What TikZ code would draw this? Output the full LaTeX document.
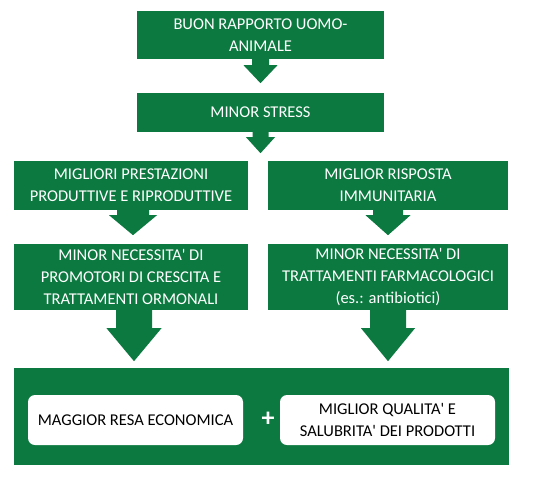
\documentclass[tikz,border=0pt]{standalone}
\usepackage{fontspec}
\setmainfont{Carlito}[Ligatures=TeXOff]
\usetikzlibrary{calc}
\definecolor{gr}{RGB}{12,122,64}
\tikzset{
  gbox/.style={rectangle,fill=gr,text=white,align=center,inner sep=0pt,font=\fontsize{16.5}{22}\selectfont},
  wbox/.style={rectangle,rounded corners=7pt,fill=white,text=black,align=center,inner sep=0pt,font=\fontsize{16.5}{22}\selectfont},
  garrow/.style={fill=gr}
}
% #1 start, #2 shaft half width, #3 head half width, #4 shaft length, #5 head length
\newcommand\grarrow[5]{%
  \fill[garrow] ($#1+(-#2,-1)$) -- ++(0,#4+1) -- ++(#2-#3,0) -- ++(#3,#5) -- ++(#3,-#5) -- ++(#2-#3,0) -- ++(0,-#4-1) -- cycle;}
\begin{document}
\begin{tikzpicture}[x=1pt,y=-1pt]
\useasboundingbox (0,0) rectangle (538,480);
\node[gbox,minimum width=247pt,minimum height=48pt] (b1) at (260.5,35) {BUON RAPPORTO UOMO-\\ANIMALE};
\node[gbox,minimum width=247pt,minimum height=39pt] (b2) at (260.5,112.5) {MINOR STRESS};
\node[gbox,minimum width=234pt,minimum height=49pt] (b3l) at (131,185.5) {MIGLIORI PRESTAZIONI\\PRODUTTIVE E RIPRODUTTIVE};
\node[gbox,minimum width=240pt,minimum height=49pt] (b3r) at (388,185.5) {MIGLIOR RISPOSTA\\IMMUNITARIA};
\node[gbox,minimum width=234pt,minimum height=66pt] (b4l) at (131,277) {MINOR NECESSITA' DI\\PROMOTORI DI CRESCITA E\\TRATTAMENTI ORMONALI};
\node[gbox,minimum width=240pt,minimum height=66pt] (b4r) at (388,277) {MINOR NECESSITA' DI\\TRATTAMENTI FARMACOLOGICI\\(es.: antibiotici)};
\node[gbox,minimum width=495pt,minimum height=97pt] (b5) at (261.5,416.5) {};
\node[wbox,minimum width=215pt,minimum height=50pt] (r1) at (135.5,420) {MAGGIOR RESA ECONOMICA};
\node[wbox,minimum width=215pt,minimum height=50pt] (r2) at (387.5,420) {MIGLIOR QUALITA' E\\SALUBRITA' DEI PRODOTTI};
\node[text=white,font=\fontsize{26}{26}\selectfont\bfseries] (plus) at (268,419) {+};
\grarrow{(b1.south)}{8.5}{17}{6}{18}
\grarrow{(b2.south)}{8}{14.5}{5}{16}
\grarrow{($(b3l.south)+(2,0)$)}{16}{24}{5}{20}
\grarrow{(b3r.south)}{15}{22.5}{5}{20}
\grarrow{($(b4l.south)+(3,0)$)}{18}{27.5}{18}{33}
\grarrow{(b4r.south)}{18}{27}{18}{33}
\end{tikzpicture}
\end{document}
